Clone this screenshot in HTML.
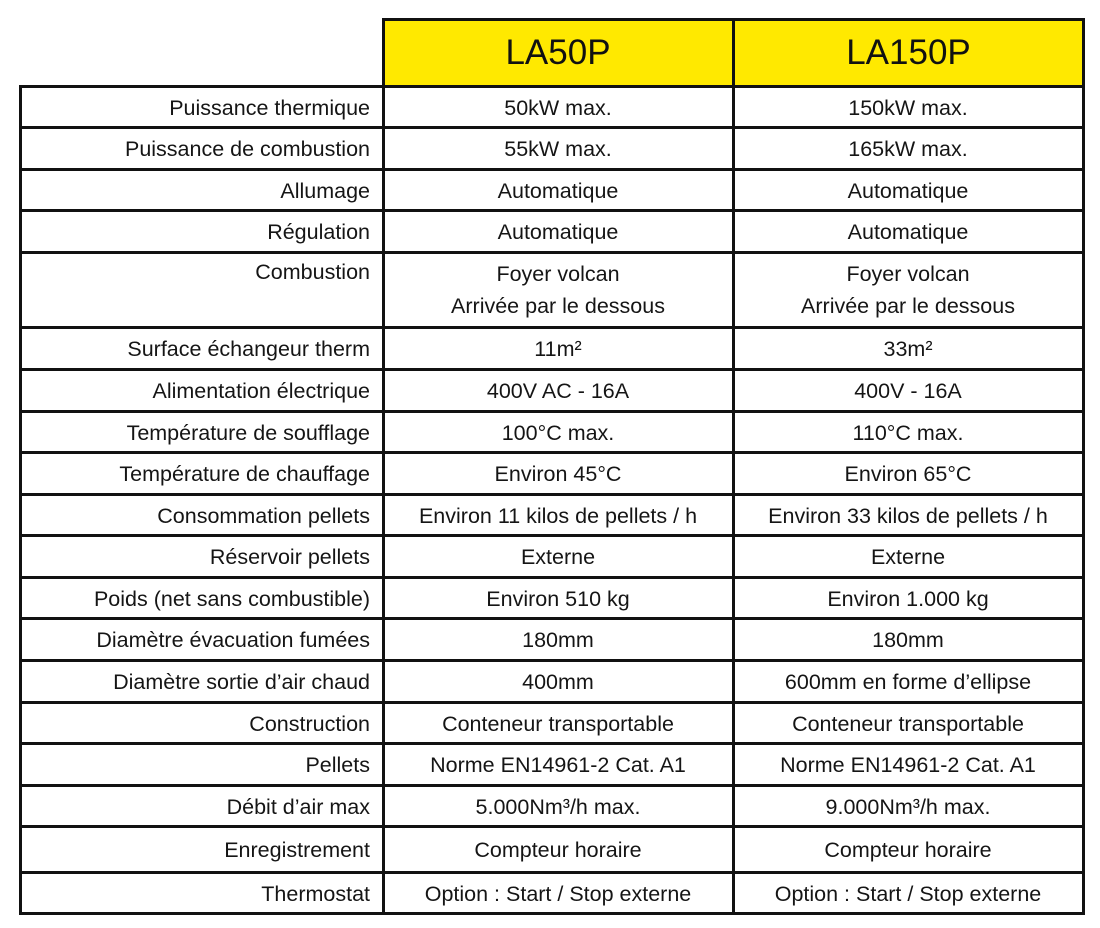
<!DOCTYPE html>
<html><head><meta charset="utf-8"><style>
body{margin:0;width:1100px;height:928px;background:#fff;position:relative;overflow:hidden;font-family:"Liberation Sans",sans-serif;color:#151515}
.h{position:absolute;height:3px;background:#111}
.v{position:absolute;width:3px;background:#111}
.t{position:absolute;font-size:21.5px;line-height:28px;white-space:nowrap}
.l{right:730px;text-align:right}
.c1{left:384px;width:348px;text-align:center}
.c2{left:734px;width:348px;text-align:center}
.hd{position:absolute;top:20px;height:65px;background:#ffe900;font-size:35px;line-height:66px;text-align:center;color:#111}
</style></head><body>
<div class="hd" style="left:384px;width:348px">LA50P</div>
<div class="hd" style="left:735px;width:347px">LA150P</div>
<div class="h" style="left:382px;width:703px;top:18px"></div>
<div class="v" style="left:382px;top:18px;height:897px"></div>
<div class="v" style="left:732px;top:18px;height:897px"></div>
<div class="v" style="left:1082px;top:18px;height:897px"></div>
<div class="v" style="left:19px;top:85px;height:830px"></div>
<div id="rows"></div>
<script>
var ys=[85,126,168,209,251,326,368,410,451,493,534,576,617,659,701,742,784,825,871,912];
var html='';
ys.forEach(function(y){html+='<div class="h" style="left:19px;width:1066px;top:'+y+'px"></div>';});
var d=[["Puissance thermique","50kW max.","150kW max."],["Puissance de combustion","55kW max.","165kW max."],["Allumage","Automatique","Automatique"],["Régulation","Automatique","Automatique"],["Combustion","Foyer volcan<br>Arrivée par le dessous","Foyer volcan<br>Arrivée par le dessous"],["Surface échangeur therm","11m²","33m²"],["Alimentation électrique","400V AC - 16A","400V - 16A"],["Température de soufflage","100°C max.","110°C max."],["Température de chauffage","Environ 45°C","Environ 65°C"],["Consommation pellets","Environ 11 kilos de pellets / h","Environ 33 kilos de pellets / h"],["Réservoir pellets","Externe","Externe"],["Poids (net sans combustible)","Environ 510 kg","Environ 1.000 kg"],["Diamètre évacuation fumées","180mm","180mm"],["Diamètre sortie d’air chaud","400mm","600mm en forme d’ellipse"],["Construction","Conteneur transportable","Conteneur transportable"],["Pellets","Norme EN14961-2 Cat. A1","Norme EN14961-2 Cat. A1"],["Débit d’air max","5.000Nm³/h max.","9.000Nm³/h max."],["Enregistrement","Compteur horaire","Compteur horaire"],["Thermostat","Option : Start / Stop externe","Option : Start / Stop externe"]];
d.forEach(function(r,i){
 var top=ys[i],bot=ys[i+1];var y;
 if(i==4){y=top+7;html+='<div class="t l" style="top:'+y+'px">'+r[0]+'</div><div class="t c1" style="top:'+y+'px;line-height:32px">'+r[1]+'</div><div class="t c2" style="top:'+y+'px;line-height:32px">'+r[2]+'</div>';return;}
 y=Math.round((top+bot)/2-12);
 html+='<div class="t l" style="top:'+y+'px">'+r[0]+'</div><div class="t c1" style="top:'+y+'px">'+r[1]+'</div><div class="t c2" style="top:'+y+'px">'+r[2]+'</div>';
});
document.getElementById('rows').innerHTML=html;
</script>
</body></html>
